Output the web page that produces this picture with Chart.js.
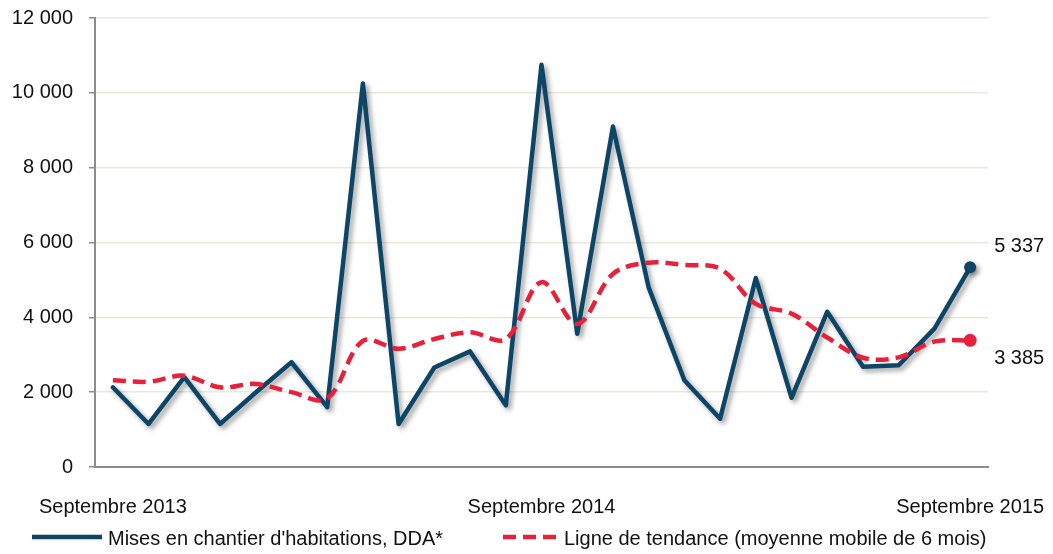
<!DOCTYPE html>
<html>
<head>
<meta charset="utf-8">
<script src="https://cdn.jsdelivr.net/npm/chart.js@4"></script>
<style>
  html, body { margin: 0; padding: 0; background: #fff; }
  #wrap { width: 1053px; height: 554px; position: relative; }
</style>
</head>
<body>
<div id="wrap"><canvas id="c" width="1053" height="554"></canvas></div>
<script>
// ---- Data ----
const months = [
  'Sep 2013','Oct 2013','Nov 2013','Dec 2013','Jan 2014','Feb 2014','Mar 2014','Apr 2014',
  'May 2014','Jun 2014','Jul 2014','Aug 2014','Sep 2014','Oct 2014','Nov 2014','Dec 2014',
  'Jan 2015','Feb 2015','Mar 2015','Apr 2015','May 2015','Jun 2015','Jul 2015','Aug 2015','Sep 2015'
];
const tickLabels = { 0: 'Septembre 2013', 12: 'Septembre 2014', 24: 'Septembre 2015' };
const misesEnChantier = [
  2130, 1150, 2400, 1150, 1990, 2800, 1600, 10250, 1150, 2660, 3090, 1650, 10750,
  3560, 9100, 4800, 2320, 1290, 5050, 1850, 4150, 2680, 2720, 3700, 5337
];
const tendance = [
  2320, 2280, 2440, 2130, 2220, 2000, 1830, 3370, 3160, 3420, 3600, 3420, 4940,
  3820, 5160, 5460, 5400, 5300, 4360, 4100, 3460, 2920, 2930, 3350, 3385
];
const seriesNames = [
  "Mises en chantier d'habitations, DDA*",
  'Ligne de tendance (moyenne mobile de 6 mois)'
];
const yMin = 0, yMax = 12000, yStep = 2000;

const BLUE = '#0d4567';
const RED = '#e8203a';

function fmtTick(v) {
  return String(Math.round(v)).replace(/\B(?=(\d{3})+(?!\d))/g, ' ');
}

const lastIdx = months.length - 1;

const shadowPlugin = {
  id: 'shadow',
  beforeDatasetDraw(chart, args) {
    if (args.index === 0) {
      const ctx = chart.ctx;
      ctx.save();
      ctx.shadowColor = 'rgba(0,0,0,0.38)';
      ctx.shadowBlur = 5;
      ctx.shadowOffsetX = 3;
      ctx.shadowOffsetY = 3;
    }
  },
  afterDatasetDraw(chart, args) {
    if (args.index === 0) chart.ctx.restore();
  }
};

const endLabelPlugin = {
  id: 'endLabels',
  afterDatasetsDraw(chart) {
    const ctx = chart.ctx;
    ctx.save();
    ctx.font = '20px "Liberation Sans", Arial, sans-serif';
    ctx.fillStyle = '#111';
    ctx.textAlign = 'left';
    ctx.textBaseline = 'middle';
    const offs = [-21, 18];
    chart.data.datasets.forEach((ds, i) => {
      const meta = chart.getDatasetMeta(i);
      const pt = meta.data[meta.data.length - 1];
      const val = ds.data[ds.data.length - 1];
      ctx.fillText(fmtTick(val), pt.x + 24, pt.y + offs[i]);
    });
    ctx.restore();
  }
};

const legendPlugin = {
  id: 'customLegend',
  afterDraw(chart) {
    const ctx = chart.ctx;
    const items = [
      { x0: 32, x1: 102, tx: 108 },
      { x0: 503, x1: 561, tx: 564 }
    ];
    ctx.save();
    chart.data.datasets.forEach((ds, i) => {
      const it = items[i];
      ctx.beginPath();
      ctx.strokeStyle = ds.borderColor;
      ctx.lineWidth = ds.borderWidth;
      ctx.setLineDash(ds.borderDash || []);
      ctx.moveTo(it.x0, 537);
      ctx.lineTo(it.x1, 537);
      ctx.stroke();
      ctx.setLineDash([]);
      ctx.font = '20px "Liberation Sans", Arial, sans-serif';
      ctx.fillStyle = '#111';
      ctx.textBaseline = 'middle';
      ctx.textAlign = 'left';
      ctx.fillText(ds.label, it.tx, 539);
    });
    ctx.restore();
  }
};

new Chart(document.getElementById('c'), {
  type: 'line',
  data: {
    labels: months,
    datasets: [
      {
        label: seriesNames[0],
        data: misesEnChantier,
        borderColor: BLUE,
        backgroundColor: BLUE,
        borderWidth: 4.5,
        tension: 0,
        pointRadius: ctx => ctx.dataIndex === lastIdx ? 6 : 0,
        pointBorderWidth: 0,
        pointHoverRadius: 0,
        borderJoinStyle: 'round',
        borderCapStyle: 'round',
        order: 1
      },
      {
        label: seriesNames[1],
        data: tendance,
        borderColor: RED,
        backgroundColor: RED,
        borderWidth: 4.5,
        borderDash: [13, 7],
        tension: 0.35,
        pointRadius: ctx => ctx.dataIndex === lastIdx ? 6.5 : 0,
        pointBorderWidth: 0,
        pointHoverRadius: 0,
        order: 0
      }
    ]
  },
  options: {
    responsive: false,
    animation: false,
    events: [],
    layout: { padding: { left: 0, right: 65, top: 18, bottom: 0 } },
    plugins: {
      legend: { display: false },
      tooltip: { enabled: false },
      title: { display: false }
    },
    scales: {
      x: {
        type: 'category',
        offset: true,
        grid: { display: false },
        border: { display: true, color: '#8c8c8c', width: 2 },
        ticks: {
          autoSkip: false,
          maxRotation: 0,
          minRotation: 0,
          padding: 20,
          color: '#111',
          font: { family: '"Liberation Sans", Arial, sans-serif', size: 20 },
          callback: (v, i) => tickLabels[i] !== undefined ? tickLabels[i] : ''
        },
        afterFit: s => { s.height = 87; s.paddingLeft = 0; s.paddingRight = 0; }
      },
      y: {
        min: yMin,
        max: yMax,
        ticks: {
          stepSize: yStep,
          padding: 16,
          color: '#111',
          font: { family: '"Liberation Sans", Arial, sans-serif', size: 20 },
          callback: v => fmtTick(v)
        },
        grid: {
          color: '#ece7da',
          lineWidth: 1.5,
          tickColor: '#8c8c8c',
          tickLength: 6,
          tickWidth: 1.5
        },
        border: { display: true, color: '#8c8c8c', width: 2 },
        afterFit: s => { s.width = 95; s.paddingTop = 0; s.paddingBottom = 0; }
      }
    }
  },
  plugins: [shadowPlugin, endLabelPlugin, legendPlugin]
});
</script>
</body>
</html>
